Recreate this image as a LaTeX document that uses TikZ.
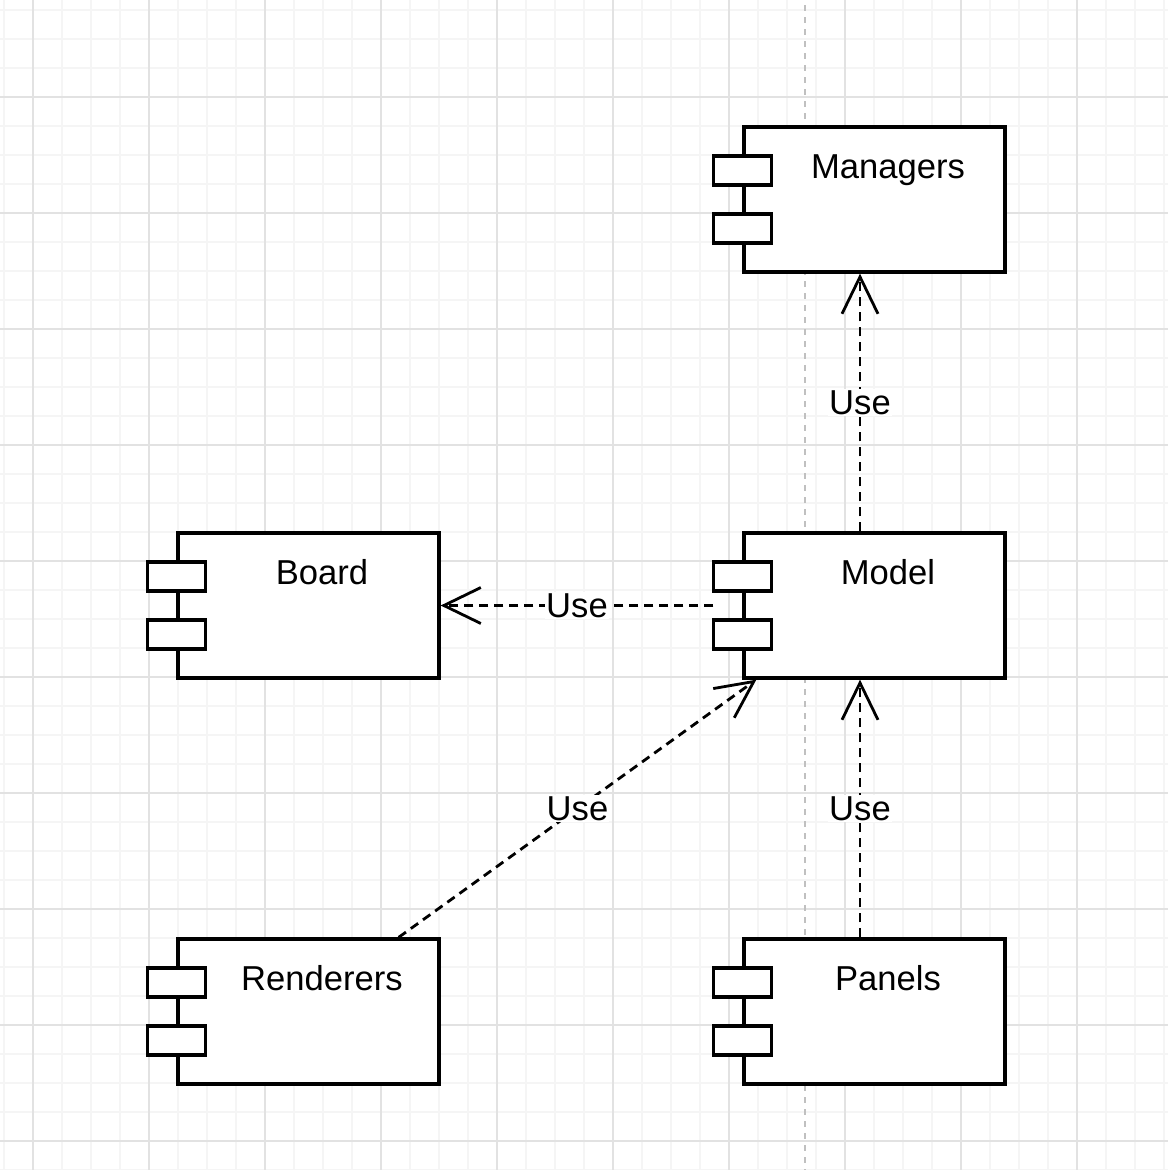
\documentclass[tikz,border=0pt]{standalone}
\usepackage{fontspec}
\setmainfont{Liberation Sans}
\usetikzlibrary{arrows.meta, calc}

\begin{document}
\begin{tikzpicture}[x=1pt, y=-1pt, >={Straight Barb[length=37pt, width=36pt]},
  comp/.style={draw, line width=3.3pt, fill=white, minimum width=261pt, minimum height=145pt, inner sep=0pt},
  port/.style={draw, line width=3.3pt, fill=white, minimum width=58pt, minimum height=29pt, inner sep=0pt},
  txt/.style={font=\fontsize{34.6}{40}\selectfont, inner sep=0pt, anchor=base},
  use/.style={font=\fontsize{34.6}{40}\selectfont, fill=white, inner sep=1pt},
  dep/.style={->, line width=2.8pt, dash pattern=on 9pt off 6pt}]
  % colours
  \definecolor{gridminor}{RGB}{245,245,245}
  \definecolor{gridmajor}{RGB}{226,226,226}
  \definecolor{guide}{RGB}{192,192,192}

  \useasboundingbox (0,0) rectangle (1168,1170);
  \fill[white] (0,0) rectangle (1168,1170);

  % grid
  \foreach \x in {4,33,...,1168} \draw[gridminor, line width=2pt] (\x,0) -- (\x,1170);
  \foreach \y in {10,39,...,1170} \draw[gridminor, line width=2pt] (0,\y) -- (1168,\y);
  \foreach \x in {33,149,...,1168} \draw[gridmajor, line width=2pt] (\x,0) -- (\x,1170);
  \foreach \y in {97,213,...,1170} \draw[gridmajor, line width=2pt] (0,\y) -- (1168,\y);

  % guide line
  \draw[guide, line width=2pt, dash pattern=on 6pt off 6pt] (805,5) -- (805,1170);

  % components
  \node[comp] (managers) at (874.5, 199.5) {};
  \node[comp] (model) at (874.5, 605.5) {};
  \node[comp] (board) at (308.5, 605.5) {};
  \node[comp] (renderers) at (308.5, 1011.5) {};
  \node[comp] (panels) at (874.5, 1011.5) {};

  % ports
  \node[port] (managers-a) at ($(managers.west)+(0,-29)$) {};
  \node[port] (managers-b) at ($(managers.west)+(0,29)$) {};
  \node[port] (model-a) at ($(model.west)+(0,-29)$) {};
  \node[port] (model-b) at ($(model.west)+(0,29)$) {};
  \node[port] (board-a) at ($(board.west)+(0,-29)$) {};
  \node[port] (board-b) at ($(board.west)+(0,29)$) {};
  \node[port] (renderers-a) at ($(renderers.west)+(0,-29)$) {};
  \node[port] (renderers-b) at ($(renderers.west)+(0,29)$) {};
  \node[port] (panels-a) at ($(panels.west)+(0,-29)$) {};
  \node[port] (panels-b) at ($(panels.west)+(0,29)$) {};

  % names
  \node[txt] (managers-t) at ($(managers.north)+(13.5,53)$) {Managers};
  \node[txt] (model-t) at ($(model.north)+(13.5,53)$) {Model};
  \node[txt] (board-t) at ($(board.north)+(13.5,53)$) {Board};
  \node[txt] (renderers-t) at ($(renderers.north)+(13.5,53)$) {Renderers};
  \node[txt] (panels-t) at ($(panels.north)+(13.5,53)$) {Panels};

  % connector ends
  \coordinate (model-top) at ($(model.north)+(-14.5,0)$);
  \coordinate (model-bot) at ($(model.south)+(-14.5,0)$);
  \coordinate (model-left) at ($(model.west)+(-29,0)$);
  \coordinate (model-corner) at ($(model.south west)+(14,0)$);
  \coordinate (managers-bot) at ($(managers.south)+(-14.5,0)$);
  \coordinate (panels-top) at ($(panels.north)+(-14.5,0)$);
  \coordinate (renderers-top) at ($(renderers.north east)+(-42,0)$);

  % dependencies
  \draw[dep] (model-top) -- node[use] (u1) {Use} (managers-bot);
  \draw[dep] (model-left) -- node[use] (u2) {Use} (board.east);
  \draw[dep] (renderers-top) -- node[use] (u3) {Use} (model-corner);
  \draw[dep] (panels-top) -- node[use] (u4) {Use} (model-bot);

\end{tikzpicture}
\end{document}
